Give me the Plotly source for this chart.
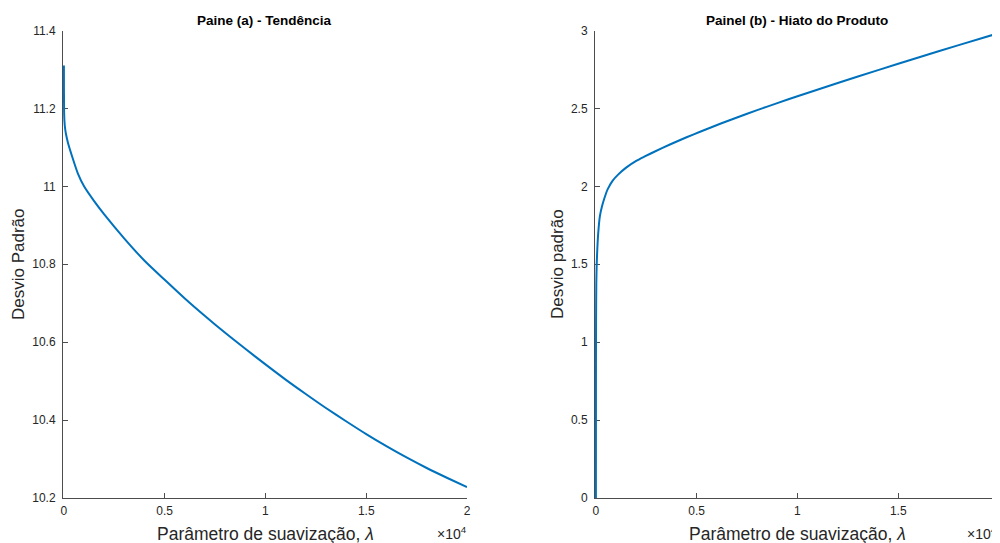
import plotly.graph_objects as go

# ---- data ----
lam_a = [0, 2, 10, 30, 60, 100, 200, 400, 700, 1000, 1500, 2000, 3000, 4000, 5000,
         6000, 7000, 8000, 9000, 10000, 11000, 12000, 13000, 14000, 15000, 16000,
         17000, 18000, 19000, 20000]
sd_trend = [11.31, 11.25, 11.19, 11.165, 11.148, 11.135, 11.112, 11.078, 11.032, 11.0,
            10.962, 10.928, 10.866, 10.809, 10.76, 10.712, 10.667, 10.624, 10.583, 10.543,
            10.504, 10.467, 10.431, 10.397, 10.364, 10.333, 10.304, 10.277, 10.252, 10.228]

lam_b = [0, 1, 3, 8, 20, 40, 70, 115, 200, 300, 413, 580, 825, 1100, 1500, 2000, 2400,
         2900, 3700, 4500, 5200, 6200, 7000, 8000, 9000, 10000, 12000, 14000, 16000,
         18000, 20000]
sd_gap = [0.0, 0.5, 0.85, 1.15, 1.38, 1.5, 1.6, 1.7, 1.81, 1.87, 1.92, 1.98, 2.035, 2.075,
          2.12, 2.163, 2.19, 2.222, 2.27, 2.315, 2.352, 2.403, 2.442, 2.489, 2.534, 2.578,
          2.663, 2.746, 2.827, 2.906, 2.984]

x_tickvals = [0, 5000, 10000, 15000, 20000]
x_ticktext = ["0", "0.5", "1", "1.5", "2"]
ya_tickvals = [10.2, 10.4, 10.6, 10.8, 11.0, 11.2, 11.4]
ya_ticktext = ["10.2", "10.4", "10.6", "10.8", "11", "11.2", "11.4"]
yb_tickvals = [0, 0.5, 1, 1.5, 2, 2.5, 3]
yb_ticktext = ["0", "0.5", "1", "1.5", "2", "2.5", "3"]

title_a = "Paine (a) - Tendência"
title_b = "Painel (b) - Hiato do Produto"
xlabel = "Parâmetro de suavização, <i>λ</i>"
ylabel_a = "Desvio Padrão"
ylabel_b = "Desvio padrão"

# the page body has an 8px margin, so the figure is drawn at (8, 8)
OFF = 8
W, H = 1000 - OFF, 543 - OFF
BLUE = "#0072BD"
AX = "#4d4d4d"
TXT = "#262626"
FONT = "Liberation Sans, Arial, Helvetica, sans-serif"

def px(x):
    return (x - OFF) / W

def py(y):
    return 1 - (y - OFF) / H

fig = go.Figure()
fig.add_trace(go.Scatter(x=lam_a, y=sd_trend, mode="lines",
                         line=dict(color=BLUE, width=2, shape="spline", smoothing=0.6),
                         xaxis="x", yaxis="y", showlegend=False, hoverinfo="skip"))
fig.add_trace(go.Scatter(x=lam_b, y=sd_gap, mode="lines",
                         line=dict(color=BLUE, width=2, shape="spline", smoothing=0.6),
                         xaxis="x2", yaxis="y2", showlegend=False, hoverinfo="skip"))

ydom = [py(498), py(30.5)]
common = dict(showgrid=False, zeroline=False, showline=True, linecolor=AX, linewidth=1,
              ticks="inside", ticklen=5, tickcolor=AX, tickwidth=1,
              tickfont=dict(family=FONT, size=12, color=TXT), automargin=False,
              layer="below traces", fixedrange=True, ticklabeloverflow="allow")

fig.update_layout(
    width=W, height=H,
    margin=dict(l=0, r=0, t=0, b=0),
    paper_bgcolor="white", plot_bgcolor="white",
    xaxis=dict(domain=[px(63), px(467)], range=[-45, 20000], tickmode="array",
               tickvals=x_tickvals, ticktext=x_ticktext, anchor="y",
               ticklabelstandoff=2, **common),
    yaxis=dict(domain=ydom, range=[10.2, 11.4], tickmode="array",
               tickvals=ya_tickvals, ticktext=ya_ticktext, anchor="x",
               ticklabelstandoff=4, **common),
    xaxis2=dict(domain=[px(595), px(999)], range=[-45, 20000], tickmode="array",
                tickvals=x_tickvals, ticktext=x_ticktext, anchor="y2",
                ticklabelstandoff=2, **common),
    yaxis2=dict(domain=ydom, range=[0, 3], tickmode="array",
                tickvals=yb_tickvals, ticktext=yb_ticktext, anchor="x2",
                ticklabelstandoff=4, **common),
)

def ann(text, x, y, size, bold=False, angle=0, xanchor="center", color=TXT):
    fig.add_annotation(text=f"<b>{text}</b>" if bold else text, x=px(x), y=py(y),
                       xref="paper", yref="paper", showarrow=False, textangle=angle,
                       xanchor=xanchor, yanchor="middle",
                       font=dict(family=FONT, size=size, color=color))

ann(title_a, 264, 20, 13.5, bold=True, color="#000000")
ann(title_b, 797, 20, 13.5, bold=True, color="#000000")
ann(xlabel, 265, 534, 17.5)
ann(xlabel, 797, 534, 17.5)
ann(ylabel_a, 19, 264, 17, angle=-90)
ann(ylabel_b, 558, 264, 17, angle=-90)
ann("×10<sup>4</sup>", 469, 533, 14, xanchor="right")
ann("×10<sup>4</sup>", 999, 533, 14, xanchor="right")

fig.write_html("out.html")
